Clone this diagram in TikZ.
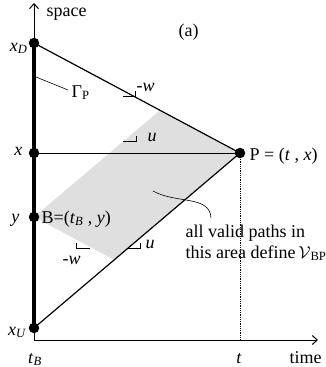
\documentclass[tikz,border=0pt]{standalone}
\usepackage{fontspec}
\setmainfont{Liberation Serif}
\usetikzlibrary{arrows.meta}

\begin{document}
\begin{tikzpicture}[x=1pt,y=-1pt,line width=1.2pt,
  font=\fontsize{18}{22}\selectfont,
  >={Straight Barb[length=5pt,width=9pt]},
  dot/.style={circle,fill,inner sep=0pt,minimum size=10.5pt},
  lbl/.style={inner sep=0pt},
  slope/.style={line width=0.7pt}]
  \useasboundingbox (0,0) rectangle (326,367);
  % valid region
  \fill[gray!25] (34,217) -- (160,110.3) -- (240,153) -- (114.3,259.9) -- cycle;
  % axes
  \coordinate (O) at (34,340);
  \coordinate (top) at (34,3);
  \coordinate (right) at (318,340);
  \coordinate (tP) at (240,340);
  \draw[->,line width=1pt] (O) -- (top);
  \draw[->,line width=1pt] (O) -- (right);
  % points
  \node[dot] (xD) at (34,43) {};
  \node[dot] (xU) at (34,328) {};
  \node[dot] (xx) at (34,153) {};
  \node[dot] (B) at (34,217) {};
  \node[dot] (P) at (240,153) {};
  \draw[line width=4.5pt] (xD.center) -- (xU.center);
  \draw (xD.center) -- (P.center);
  \draw (xU.center) -- (P.center);
  \draw[line width=1pt] (xx.center) -- (P.center);
  \draw[densely dotted,line width=0.8pt] (P) -- (tP);
  % slope marks
  \draw[slope] (123,96) -- (135,96) -- (135,90.5);
  \draw[slope] (123,141) -- (136,141) -- (136,135.5);
  \draw[slope] (90,248) -- (76,248) -- (76,243);
  \draw[slope] (128,248) -- (140,248) -- (140,243);
  % labels
  \node[lbl,anchor=base west] (space) at (46,16) {space};
  \node[lbl,anchor=base west] (fig) at (178,36) {(a)};
  \node[lbl,anchor=base east] (lxD) at (28,51) {\textit{x}\textsubscript{\textit{D}}};
  \node[lbl,anchor=base east] (lx) at (23,155) {\textit{x}};
  \node[lbl,anchor=base east] (ly) at (20,222) {\textit{y}};
  \node[lbl,anchor=base east] (lxU) at (27,335) {\textit{x}\textsubscript{\textit{U}}};
  \node[lbl,anchor=base west] (lB) at (41,223) {B=(\textit{t}\textsubscript{\textit{B}} , \textit{y})};
  \node[lbl,anchor=base west] (lP) at (249,160) {P = (\textit{t} , \textit{x})};
  \node[lbl,anchor=base west] (gam) at (71,97) {Γ\textsubscript{P}};
  \coordinate (gamfoot) at (36,77);
  \draw[line width=0.6pt] (gamfoot) -- (68,90);
  \node[lbl,anchor=base west] (w1) at (136,91) {-\textit{w}};
  \node[lbl,anchor=base west] (u1) at (147,141) {\textit{u}};
  \node[lbl,anchor=base west] (w2) at (62,264) {-\textit{w}};
  \node[lbl,anchor=base west] (u2) at (145,248) {\textit{u}};
  \node[lbl,anchor=base] (ltB) at (35,363) {\textit{t}\textsubscript{\textit{B}}};
  \node[lbl,anchor=base] (lt) at (239,363) {\textit{t}};
  \node[lbl,anchor=base west] (time) at (289,363) {time};
  \node[lbl,anchor=base west] (note1) at (185,237) {all valid paths in};
  \node[lbl,anchor=base west] (note2) at (185,258) {this area define\,$\mathcal{V}$\textsubscript{BP}};
  \coordinate (notefoot) at (211,218);
  \draw[line width=0.6pt] (153,191) .. controls (176,204) and (210,195) .. (notefoot);
\end{tikzpicture}
\end{document}
